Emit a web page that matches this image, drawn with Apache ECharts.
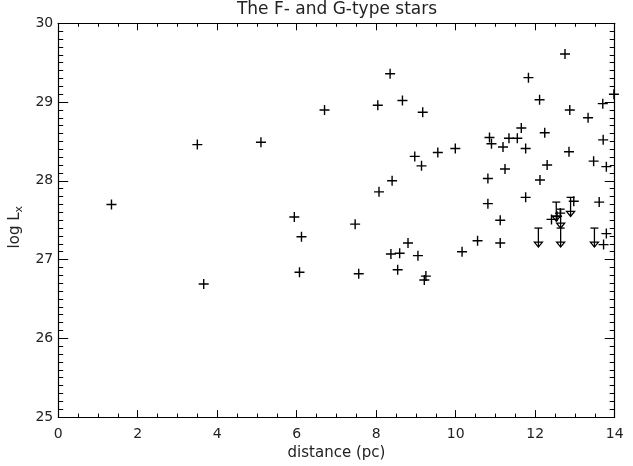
<!DOCTYPE html>
<html>
<head>
<meta charset="utf-8">
<script src="https://cdn.jsdelivr.net/npm/echarts@6/dist/echarts.min.js"></script>
<style>
  html, body { margin: 0; padding: 0; background: #fff; }
  #chart { width: 633px; height: 466px; }
</style>
</head>
<body>
<div id="chart"></div>
<script>
// detections: distance (pc) and log Lx
const dist = [
  1.34, 3.50, 5.10, 5.94, 6.12, 3.66, 6.07,
  6.70, 8.04, 8.35, 8.66, 9.17, 8.97, 9.14, 8.40, 8.07,
  7.47, 7.56, 8.80, 8.37, 8.59, 9.05, 8.54, 9.25, 9.21,
  11.83, 12.11, 12.87, 13.33, 13.70, 11.65, 10.85, 10.90, 11.34, 11.55, 11.19, 11.76,
  12.24, 9.55, 9.99, 12.85, 13.71, 11.24, 12.30, 13.47, 13.79, 10.81, 12.12,
  11.76, 10.81, 11.12, 10.55, 11.12, 10.16, 13.61, 12.97, 13.79, 13.72,
  12.41, 12.55, 12.63, 12.75, 13.98
];
const logLx = [
  27.70, 28.46, 28.49, 27.54, 27.29, 26.69, 26.84,
  28.90, 28.96, 29.36, 29.02, 28.87, 28.31, 28.19, 28.00, 27.86,
  27.45, 26.82, 27.21, 27.07, 27.08, 27.05, 26.87, 26.79, 26.74,
  29.31, 29.03, 28.90, 28.80, 28.98, 28.67, 28.55, 28.47, 28.54, 28.54, 28.43, 28.41,
  28.61, 28.36, 28.41, 28.37, 28.52, 28.15, 28.20, 28.25, 28.18, 28.03, 28.01,
  27.79, 27.71, 27.50, 27.24, 27.21, 27.10, 27.73, 27.74, 27.33, 27.19,
  27.51, 27.55, 27.59, 29.61, 29.10
];
// upper limits
const limDist = [12.08, 12.53, 12.64, 12.64, 12.89, 13.49];
const limLx = [27.40, 27.73, 27.64, 27.40, 27.79, 27.40];

const xTicks = [0, 2, 4, 6, 8, 10, 12, 14];
const yTicks = [25, 26, 27, 28, 29, 30];

const FONT = 'DejaVu Sans';
const plus = 'path://M0,4.3H4.3V0H5.7V4.3H10V5.7H5.7V10H4.3V5.7H0Z';

const chart = echarts.init(document.getElementById('chart'));

function axisCommon(extra) {
  return Object.assign({
    axisLine: { show: true, onZero: false, lineStyle: { color: '#000', width: 1.2 } },
    splitLine: { show: false },
    minorSplitLine: { show: false }
  }, extra);
}

chart.setOption({
  backgroundColor: '#fff',
  animation: false,
  title: {
    text: 'The F- and G-type stars',
    left: 336,
    textAlign: 'center',
    top: 0,
    padding: 1,
    textStyle: { fontFamily: FONT, fontSize: 17, fontWeight: 'normal', color: '#222' }
  },
  grid: { left: 57.5, right: 18.3, top: 23.3, bottom: 47 },
  xAxis: [
    axisCommon({
      type: 'value', min: xTicks[0], max: xTicks[xTicks.length - 1], interval: 2,
      position: 'bottom',
      name: 'distance (pc)', nameLocation: 'middle', nameGap: 27,
      nameTextStyle: { fontFamily: FONT, fontSize: 15, color: '#222' },
      axisTick: { show: true, inside: true, length: 7, lineStyle: { color: '#000' } },
      minorTick: { show: true, splitNumber: 4, length: 3.5, lineStyle: { color: '#000' } },
      axisLabel: { fontFamily: FONT, fontSize: 14, color: '#222', margin: 10 }
    }),
    axisCommon({
      type: 'value', min: xTicks[0], max: xTicks[xTicks.length - 1], interval: 2,
      position: 'top',
      axisTick: { show: true, inside: true, length: 7, lineStyle: { color: '#000' } },
      minorTick: { show: true, splitNumber: 4, length: 3.5, lineStyle: { color: '#000' } },
      axisLabel: { show: false }
    })
  ],
  yAxis: [
    axisCommon({
      type: 'value', min: yTicks[0], max: yTicks[yTicks.length - 1], interval: 1,
      position: 'left',
      name: 'log L{sub|x}', nameLocation: 'middle', nameGap: 26, nameRotate: 90,
      nameTextStyle: {
        fontFamily: FONT, fontSize: 15, color: '#222', padding: [0, 14, 0, 0],
        rich: { sub: { fontFamily: FONT, fontSize: 11, color: '#222', padding: [7, 0, 0, 0] } }
      },
      axisTick: { show: true, inside: true, length: 10, lineStyle: { color: '#000' } },
      minorTick: { show: true, splitNumber: 10, length: 5, lineStyle: { color: '#000' } },
      axisLabel: { fontFamily: FONT, fontSize: 14, color: '#222', margin: 5 }
    }),
    axisCommon({
      type: 'value', min: yTicks[0], max: yTicks[yTicks.length - 1], interval: 1,
      position: 'right',
      axisTick: { show: true, inside: true, length: 10, lineStyle: { color: '#000' } },
      minorTick: { show: true, splitNumber: 10, length: 5, lineStyle: { color: '#000' } },
      axisLabel: { show: false }
    })
  ],
  series: [
    {
      type: 'scatter',
      xAxisIndex: 0, yAxisIndex: 0,
      symbol: plus,
      symbolSize: 10,
      itemStyle: { color: '#000', opacity: 1 },
      data: dist.map((d, i) => [d, logLx[i]])
    },
    {
      type: 'custom',
      xAxisIndex: 0, yAxisIndex: 0,
      data: limDist.map((d, i) => [d, limLx[i]]),
      renderItem: function (params, api) {
        const top = api.coord([api.value(0), api.value(1)]);
        const x = top[0], y0 = top[1], tip = y0 + 19;
        const st = { stroke: '#000', lineWidth: 1.3, fill: null };
        return {
          type: 'group',
          children: [
            { type: 'line', shape: { x1: x - 4, y1: y0, x2: x + 4, y2: y0 }, style: st },
            { type: 'line', shape: { x1: x, y1: y0, x2: x, y2: tip }, style: st },
            { type: 'polygon', shape: { points: [[x - 4, tip - 5], [x + 4, tip - 5], [x, tip]] }, style: st }
          ]
        };
      }
    }
  ]
});
</script>
</body>
</html>
